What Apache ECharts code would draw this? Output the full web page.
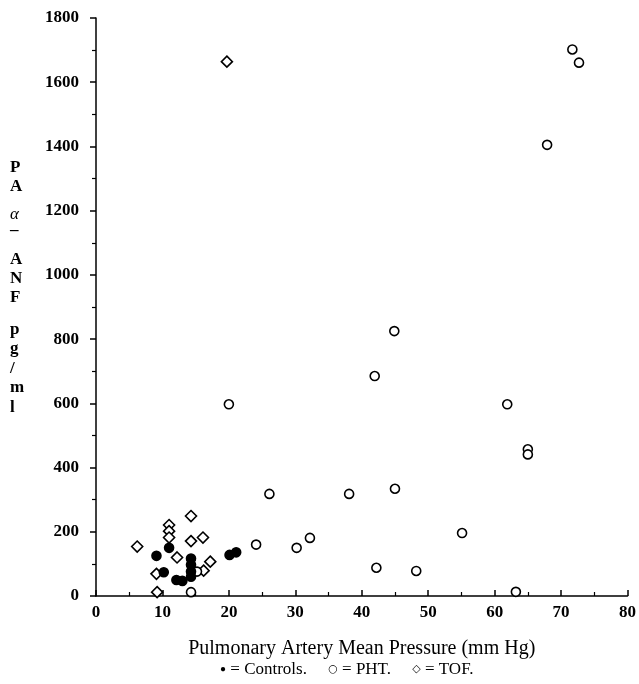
<!DOCTYPE html>
<html>
<head>
<meta charset="UTF-8">
<title>PA alpha-ANF</title>
<script type="text/javascript" src="https://cdn.jsdelivr.net/npm/echarts@6/dist/echarts.min.js"></script>
</head>
<body style="margin:0;background:#fff">
<div id="main" style="width:639px;height:684px"></div>

<script type="text/javascript">
	// data: [pressure mm Hg, PA alpha-ANF pg/ml]
	var controls=[[9.1,125],[10.2,74],[11,150],[12.1,50],[13,47],[14.3,117],[14.3,97],[14.3,76],[14.3,60],[20.1,128],[21.1,136]];
	var pht=[[14.3,12],[15.2,76],[20,597],[24.1,160],[26.1,318],[30.2,150],[32.2,181],[38.1,318],[41.95,685],[42.2,88],[44.9,825],[45,334],[48.2,78],[55.1,196],[61.9,597],[63.2,13],[65,457],[65,441],[67.9,1405],[71.7,1702],[72.7,1661]];
	var tof=[[6.2,154],[9.2,12],[9.1,69],[11,221],[11,202],[11,182],[12.2,120],[14.3,249],[14.3,171],[16.1,182],[16.2,79],[17.2,107],[19.7,1664]];
	// stacked y axis title, one letter per row (with the row's top in px)
	var yLetters=['P','A','\u03b1','\u2013','A','N','F','p','g','/','m','l'];
	var yLetterTops=[159,178,206,222,251,270,289,321,340,360,379,399];
	var legendText='{f|\u25cf} = Controls.     {o|\u25cb} = PHT.     {o|\u25c7} = TOF.';

	var serif='"Liberation Serif","DejaVu Serif",serif';
	var mychart=echarts.init(document.getElementById("main"));

	function sc(name,data,symbol,fill,size){
	  return {
	    name:name,type:'scatter',data:data,symbol:symbol,symbolSize:size,
	    itemStyle:{color:fill,borderColor:'#000',borderWidth:1.6,opacity:1},
	    emphasis:{disabled:true}
	  };
	}

	var graphics=[];
	for(var i=0;i<yLetters.length;i++){
	  graphics.push({
	    type:'text',left:10,top:yLetterTops[i],
	    style:{text:yLetters[i],fill:'#000',font:(yLetters[i]=='\u03b1'?'italic ':'bold ')+'17px '+serif}
	  });
	}
	graphics.push({
	  type:'text',left:220,top:661,
	  style:{text:legendText,fill:'#000',font:'17px '+serif,
	    rich:{f:{fontSize:10,fontFamily:serif,fill:'#000'},o:{fontSize:11,fontFamily:'DejaVu Sans',fill:'#000'}}}
	});

	var option={
	  animation:false,
	  grid:{left:96,right:11,top:18,bottom:88},
	  xAxis:{
	    type:'value',min:0,max:80,interval:10,
	    axisLine:{lineStyle:{color:'#000',width:1.5}},
	    axisTick:{inside:true,length:6,lineStyle:{color:'#000',width:1.5}},
	    minorTick:{show:true,splitNumber:2,length:4,lineStyle:{color:'#000',width:1.2}},
	    splitLine:{show:false},
	    axisLabel:{color:'#000',fontFamily:serif,fontWeight:'bold',fontSize:17,margin:8},
	    name:'Pulmonary Artery Mean Pressure (mm Hg)',nameLocation:'middle',nameGap:43,
	    nameTextStyle:{color:'#000',fontFamily:serif,fontSize:20}
	  },
	  yAxis:{
	    type:'value',min:0,max:1800,interval:200,
	    axisLine:{lineStyle:{color:'#000',width:1.5}},
	    axisTick:{length:6,lineStyle:{color:'#000',width:1.5}},
	    minorTick:{show:true,splitNumber:2,length:4,lineStyle:{color:'#000',width:1.2}},
	    splitLine:{show:false},
	    axisLabel:{color:'#000',fontFamily:serif,fontWeight:'bold',fontSize:17,margin:17,
	      formatter:function(v){return String(v);}}
	  },
	  graphic:graphics,
	  series:[
	    sc('TOF',tof,'diamond','#fff',11),
	    sc('PHT',pht,'circle','#fff',9),
	    sc('Controls',controls,'circle','#000',9)
	  ]
	};
	mychart.setOption(option);
</script>
</body>
</html>
